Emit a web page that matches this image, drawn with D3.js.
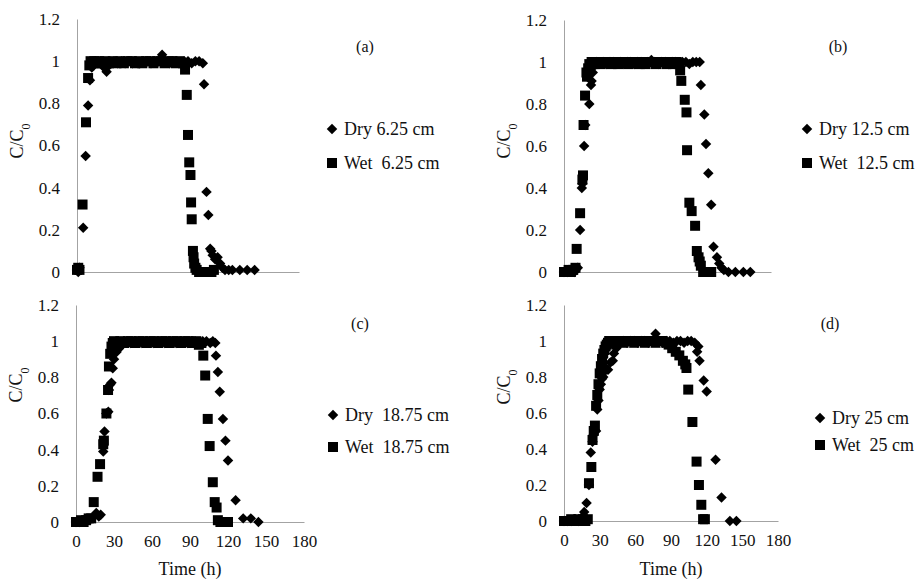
<!DOCTYPE html>
<html>
<head>
<meta charset="utf-8">
<script src="https://cdn.jsdelivr.net/npm/d3@7"></script>
<style>
  body { margin: 0; background: #fff; }
  svg text { font-family: "Liberation Serif", "Times New Roman", serif; }
</style>
</head>
<body>
<div id="chart"></div>
<script>
// time (h), C/C0
var dryA = [[0,0.01],[1,0.0],[2,0.02],[5,0.21],[7,0.55],[9,0.79],[10.5,0.91],[12,0.97],[13,1.0],[14,0.99],[15,1.0],[17,0.99],[19,1.0],[21,0.98],[22,0.97],[24,0.95],[26,0.98],[28,0.99],[30,1.0],[33,0.99],[36,1.0],[39,0.99],[42,1.0],[45,0.99],[48,1.0],[51,0.99],[54,1.0],[57,1.0],[60,0.99],[63,1.0],[66,1.0],[69,1.03],[72,1.0],[75,0.99],[78,1.0],[81,1.0],[84,0.99],[87,1.0],[90,1.0],[93,0.99],[96,1.0],[99,1.0],[102,0.99],
  [103,0.89],[105,0.38],[106.5,0.27],[108,0.11],[109,0.1],[110,0.08],[112,0.06],[114,0.07],[116,0.04],[118,0.02],[120,0.01],[123,0.01],[126,0.01],[132,0.01],[138,0.01],[144,0.01]];
var wetA = [[0,0.01],[1,0.02],[2,0.01],[4.5,0.32],[7.3,0.71],[9,0.92],[10,0.98],[11,1.0],[12,0.99],[14,1.0],[16,0.99],[18,1.0],[20,0.99],[23,1.0],[26,0.99],[29,1.0],[32,0.99],[35,1.0],[38,0.99],[41,1.0],[44,1.0],[47,0.99],[50,1.0],[53,0.99],[56,1.0],[59,1.0],[62,0.99],[65,1.0],[68,1.0],[71,0.99],[74,1.0],[77,1.0],[80,0.99],[83,1.0],[86,0.99],
  [87.6,0.96],[89,0.84],[90,0.65],[91,0.52],[92,0.46],[92.5,0.33],[93,0.25],[94,0.10],[94.5,0.07],[95,0.04],[96,0.02],[97,0.01],[99,0.0],[101,0.0],[103,0.0],[105,0.0],[107,0.0],[109,0.0],[111,0.01]];

var dryB = [[0,0.0],[3,0.0],[6,0.01],[9,0.0],[12,0.02],[14,0.20],[15.5,0.40],[16,0.42],[17.5,0.60],[18.5,0.70],[22,0.80],[23.5,0.89],[24,0.91],[25,0.95],[26,0.98],[28,1.0],[31,0.99],[34,1.0],[37,0.99],[40,1.0],[43,1.0],[46,0.99],[49,1.0],[52,0.99],[55,1.0],[58,1.0],[61,0.99],[64,1.0],[67,1.0],[70,0.99],[73,1.0],[76,1.01],[79,1.0],[82,0.99],[85,1.0],[88,1.0],[91,0.99],[94,1.0],[97,1.0],[100,0.99],[103,1.0],[106,1.0],[109,0.99],[112,1.0],[115,1.0],[118,1.0],
  [119,0.89],[122,0.75],[123.5,0.61],[125.5,0.47],[128,0.32],[130,0.12],[133,0.07],[135,0.04],[137,0.02],[139,0.01],[143,0.0],[149,0.0],[156,0.0],[162,0.0]];
var wetB = [[0,0.0],[2,0.0],[4,0.01],[6,0.0],[8,0.01],[10,0.02],[11,0.11],[14,0.28],[16,0.44],[16.5,0.46],[17,0.70],[18.3,0.84],[19.5,0.95],[20,0.93],[21,0.97],[22,0.99],[24,1.0],[26,0.99],[29,1.0],[32,0.99],[35,1.0],[38,1.0],[41,0.99],[44,1.0],[47,0.99],[50,1.0],[53,1.0],[56,0.99],[59,1.0],[62,1.0],[65,0.99],[68,1.0],[71,0.99],[74,1.0],[77,1.0],[80,0.99],[83,1.0],[86,1.0],[89,0.99],[92,1.0],[95,0.99],[98,1.0],[100,0.99],
  [101,0.96],[102,0.91],[105,0.82],[106.5,0.76],[107,0.58],[109,0.33],[111,0.29],[114,0.22],[115.5,0.10],[117,0.07],[118,0.05],[119,0.03],[121,0.0],[123,0.0],[125,0.0],[128,0.0]];

var dryC = [[0,0.0],[3,0.0],[6,0.01],[9,0.01],[12,0.02],[14,0.03],[16,0.05],[18,0.03],[19.5,0.04],[21.5,0.39],[22.5,0.50],[24,0.60],[25.5,0.61],[26,0.73],[27,0.76],[28,0.77],[29,0.85],[30,0.90],[32,0.94],[34,0.96],[36,0.98],[38,0.99],[40,1.0],[43,0.99],[46,1.0],[49,1.0],[52,0.99],[55,1.0],[58,1.0],[61,0.99],[64,1.0],[67,1.0],[70,0.99],[73,1.0],[76,1.0],[79,0.99],[82,1.0],[85,1.0],[88,0.99],[91,1.0],[94,1.0],[97,0.99],[100,1.0],[103,1.0],[106,0.99],[108,1.0],[110,0.99],
  [110.5,0.92],[112,0.83],[113.5,0.72],[116,0.57],[118,0.45],[120,0.34],[126,0.12],[132,0.02],[138,0.02],[144,0.0]];
var wetC = [[0,0.0],[2,0.0],[4,0.01],[6,0.0],[8,0.01],[10,0.02],[12,0.02],[14,0.11],[17,0.25],[19,0.32],[21.5,0.43],[22,0.45],[24,0.60],[25.3,0.73],[26,0.86],[27,0.93],[28,0.97],[29,0.99],[30,1.0],[32,0.99],[35,1.0],[38,0.99],[41,1.0],[44,1.0],[47,0.99],[50,1.0],[53,1.0],[56,0.99],[59,1.0],[62,1.0],[65,0.99],[68,1.0],[71,1.0],[74,0.99],[77,1.0],[80,1.0],[83,0.99],[86,1.0],[89,1.0],[92,0.99],[95,1.0],[97,0.98],[99,0.99],
  [100.5,0.92],[102,0.81],[104,0.57],[105.5,0.42],[108,0.22],[109.5,0.11],[111,0.08],[112,0.01],[114,0.0],[116,0.0],[118,0.0],[120,0.0]];

var dryD = [[0,0.0],[3,0.0],[6,0.0],[9,0.01],[12,0.0],[15,0.02],[17,0.05],[19,0.10],[21,0.20],[22.5,0.38],[24,0.44],[25,0.48],[27,0.50],[28,0.62],[29,0.67],[30,0.73],[31,0.76],[32,0.79],[33,0.80],[34,0.83],[35,0.85],[37,0.84],[39,0.88],[41,0.89],[42,0.93],[44,0.96],[46,0.98],[48,0.99],[50,1.0],[53,0.99],[56,1.0],[59,1.0],[62,0.99],[65,1.0],[68,1.0],[71,0.99],[74,1.0],[77,1.04],[80,1.0],[83,0.99],[86,1.0],[89,1.0],[92,0.99],[95,1.0],[98,1.0],[101,0.99],[104,1.0],[107,1.0],[110,0.99],
  [112,0.94],[113,0.97],[114,0.89],[117.5,0.78],[120,0.72],[127.5,0.34],[132.5,0.13],[139.5,0.0],[145,0.0]];
var wetD = [[0,0.0],[2,0.0],[4,0.0],[6,0.01],[8,0.0],[10,0.0],[12,0.01],[14,0.0],[16,0.01],[18,0.0],[20,0.01],[21,0.21],[23,0.30],[24,0.45],[25,0.50],[26,0.53],[27,0.64],[28,0.70],[29,0.76],[30,0.82],[31,0.86],[32,0.90],[33,0.93],[34,0.95],[35,0.97],[36,0.98],[37,0.99],[38,1.0],[41,0.99],[44,1.0],[47,1.0],[50,0.99],[53,1.0],[56,1.0],[59,0.99],[62,1.0],[65,1.0],[68,0.99],[71,1.0],[74,1.0],[77,0.99],[80,1.0],[83,1.0],[86,0.99],
  [88,0.98],[91,0.96],[94,0.94],[97,0.92],[100,0.89],[102,0.87],[103,0.85],[104.5,0.73],[108,0.55],[111.5,0.33],[113.5,0.20],[115.5,0.09],[117,0.01],[118.5,0.01]];

var xTicks = [0, 30, 60, 90, 120, 150, 180];
var yTicks = [0, 0.2, 0.4, 0.6, 0.8, 1, 1.2];
var panelNames = ["(a)", "(b)", "(c)", "(d)"];
var dryNames = ["Dry 6.25 cm", "Dry 12.5 cm", "Dry  18.75 cm", "Dry 25 cm"];
var wetNames = ["Wet  6.25 cm", "Wet  12.5 cm", "Wet  18.75 cm", "Wet  25 cm"];
var xTitle = "Time (h)";

// plot boxes (pixels), legend spots, y-title centre
var panels = [
  {x0: 77,  x1: 299, y0: 272, y1: 19,  lx: 332, ly1: 129, ly2: 163, tx: 365, ty: 46,  yt: 141, xlab: false, dry: dryA, wet: wetA},
  {x0: 564, x1: 771, y0: 272, y1: 20,  lx: 807, ly1: 129, ly2: 163, tx: 838, ty: 46,  yt: 141, xlab: false, dry: dryB, wet: wetB},
  {x0: 76,  x1: 304, y0: 522, y1: 305, lx: 333, ly1: 415, ly2: 447, tx: 360, ty: 323, yt: 385, xlab: true,  dry: dryC, wet: wetC},
  {x0: 564, x1: 778, y0: 521, y1: 305, lx: 820, ly1: 418, ly2: 445, tx: 830, ty: 323, yt: 387, xlab: true,  dry: dryD, wet: wetD}
];

var axisColor = "#a3a3a3";
var textColor = "#111";
var serif = "'Liberation Serif', 'Times New Roman', serif";

var svg = d3.select("#chart").append("svg")
    .attr("width", 920)
    .attr("height", 581)
    .attr("font-family", serif);

var diamond = d3.symbol().type(d3.symbolDiamond2).size(70);
var square = d3.symbol().type(d3.symbolSquare).size(100);

panels.forEach(function (p, i) {
    var x = d3.scaleLinear().domain([0, 180]).range([p.x0, p.x1]);
    var y = d3.scaleLinear().domain([0, 1.2]).range([p.y0, p.y1]);
    var g = svg.append("g");

    // y axis
    var yAxis = d3.axisLeft(y).tickValues(yTicks).tickSize(0).tickPadding(17)
        .tickFormat(function (d) { return String(+d.toFixed(1)); });
    var ya = g.append("g").attr("transform", "translate(" + p.x0 + ",0)").call(yAxis)
        .attr("font-family", serif).attr("font-size", 17);
    ya.select(".domain").attr("stroke", axisColor);
    ya.selectAll("text").attr("fill", textColor);

    // x axis
    var xAxis = d3.axisBottom(x).tickValues(xTicks).tickSize(0).tickSizeOuter(0).tickPadding(13);
    var xa = g.append("g").attr("transform", "translate(0," + p.y0 + ")").call(xAxis)
        .attr("font-family", serif).attr("font-size", 17);
    xa.select(".domain").attr("stroke", axisColor);
    xa.selectAll("text").attr("fill", textColor);
    if (!p.xlab) xa.selectAll(".tick").remove();
    else {
        g.append("text")
            .attr("x", (x(0) + x(180)) / 2)
            .attr("y", 575)
            .attr("text-anchor", "middle")
            .attr("fill", textColor)
            .attr("font-size", 18)
            .text(xTitle);
    }

    // y title C/C0
    var yt = g.append("text")
        .attr("transform", "translate(" + (p.x0 - 54) + "," + p.yt + ") rotate(-90)")
        .attr("text-anchor", "middle")
        .attr("fill", textColor)
        .attr("font-size", 18);
    yt.append("tspan").text("C/C");
    yt.append("tspan").attr("baseline-shift", "sub").attr("font-size", 12).text("0");

    // points: dry first, wet on top
    g.selectAll("path.dry").data(p.dry).enter().append("path")
        .attr("class", "dry")
        .attr("d", diamond)
        .attr("transform", function (d) { return "translate(" + x(d[0]) + "," + y(d[1]) + ")"; })
        .attr("fill", "#000");
    g.selectAll("path.wet").data(p.wet).enter().append("path")
        .attr("class", "wet")
        .attr("d", square)
        .attr("transform", function (d) { return "translate(" + x(d[0]) + "," + y(d[1]) + ")"; })
        .attr("fill", "#000");

    // legend
    g.append("path").attr("d", diamond).attr("fill", "#000")
        .attr("transform", "translate(" + p.lx + "," + p.ly1 + ")");
    g.append("path").attr("d", square).attr("fill", "#000")
        .attr("transform", "translate(" + p.lx + "," + p.ly2 + ")");
    g.append("text").attr("x", p.lx + 12).attr("y", p.ly1).attr("dy", "0.35em")
        .attr("fill", textColor).attr("font-size", 18).style("white-space", "pre")
        .text(dryNames[i]);
    g.append("text").attr("x", p.lx + 12).attr("y", p.ly2).attr("dy", "0.35em")
        .attr("fill", textColor).attr("font-size", 18).style("white-space", "pre")
        .text(wetNames[i]);

    // panel tag
    g.append("text").attr("x", p.tx).attr("y", p.ty).attr("dy", "0.35em")
        .attr("text-anchor", "middle")
        .attr("fill", textColor).attr("font-size", 16)
        .text(panelNames[i]);
});
</script>
</body>
</html>
